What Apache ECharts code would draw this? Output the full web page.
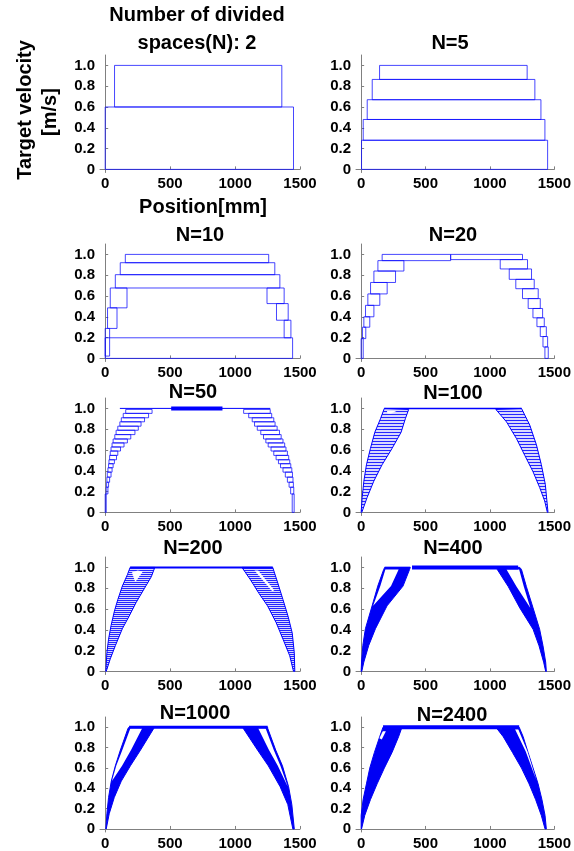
<!DOCTYPE html>
<html>
<head>
<meta charset="utf-8">
<script src="https://cdn.jsdelivr.net/npm/echarts@6/dist/echarts.min.js"></script>
<style>
html, body { margin: 0; padding: 0; background: #fff; }
#chart { width: 574px; height: 851px; }
</style>
</head>
<body>
<div id="chart"></div>
<script>
// ---- data (position in mm, velocity in m/s) ----
const xTicks = [0, 500, 1000, 1500];
const yTicks = [0, 0.2, 0.4, 0.6, 0.8, 1.0];
const panelTitles = ['N=5', 'N=10', 'N=20', 'N=50', 'N=100', 'N=200', 'N=400', 'N=1000', 'N=2400'];

// boxes: [xStart, xEnd, vLow, vHigh]
const boxesN2 = [[0, 1450, 0, 0.6], [72, 1360, 0.6, 1.0]];
const boxesN5 = [[3, 1448, 0, 0.28], [16, 1427, 0.28, 0.48], [47, 1396, 0.48, 0.67], [86, 1349, 0.67, 0.865], [143, 1289, 0.865, 1.0]];
const boxesN10 = [[155, 1259, 0.92, 1.0], [116, 1306, 0.805, 0.92], [78, 1345, 0.677, 0.805], [39, 168, 0.486, 0.677],
  [1246, 1378, 0.527, 0.677], [18, 91, 0.288, 0.486], [1319, 1409, 0.367, 0.527], [1378, 1430, 0.198, 0.367],
  [0, 34, 0.022, 0.288], [0, 1443, 0, 0.198]];
const boxesN20 = [[163, 695, 0.94, 1.0], [695, 1253, 0.95, 1.0], [130, 332, 0.84, 0.94], [99, 267, 0.73, 0.84],
  [73, 202, 0.62, 0.73], [52, 145, 0.51, 0.62], [34, 99, 0.40, 0.51], [21, 67, 0.30, 0.40], [10, 36, 0.19, 0.30], [0, 16, 0, 0.19],
  [1080, 1292, 0.86, 0.95], [1150, 1323, 0.76, 0.86], [1201, 1344, 0.67, 0.76], [1253, 1375, 0.575, 0.67],
  [1297, 1391, 0.48, 0.575], [1334, 1409, 0.39, 0.48], [1365, 1422, 0.305, 0.39], [1391, 1438, 0.21, 0.305],
  [1412, 1448, 0.11, 0.21], [1427, 1453, 0, 0.11]];
const boxesN50 = [[158, 361, 0.952, 0.990], [139, 334, 0.910, 0.952], [124, 303, 0.871, 0.910], [113, 276, 0.829, 0.871],
  [97, 255, 0.790, 0.829], [84, 229, 0.748, 0.790], [74, 197, 0.706, 0.748], [61, 171, 0.668, 0.706], [53, 145, 0.629, 0.668],
  [45, 118, 0.590, 0.629], [39, 97, 0.548, 0.590], [34, 87, 0.506, 0.548], [29, 71, 0.468, 0.506], [26, 61, 0.429, 0.468],
  [21, 53, 0.387, 0.429], [16, 45, 0.339, 0.387], [13, 34, 0.290, 0.339], [11, 26, 0.242, 0.290], [8, 21, 0.177, 0.242], [0, 8, 0, 0.177],
  [1066, 1271, 0.952, 0.990], [1105, 1282, 0.910, 0.952], [1132, 1298, 0.871, 0.910], [1150, 1308, 0.829, 0.871],
  [1171, 1324, 0.790, 0.829], [1198, 1342, 0.748, 0.790], [1219, 1355, 0.706, 0.748], [1237, 1369, 0.668, 0.706],
  [1255, 1382, 0.629, 0.668], [1277, 1392, 0.590, 0.629], [1298, 1403, 0.548, 0.590], [1316, 1413, 0.506, 0.548],
  [1334, 1421, 0.468, 0.506], [1350, 1429, 0.429, 0.468], [1369, 1437, 0.387, 0.429], [1387, 1442, 0.339, 0.387],
  [1403, 1446, 0.290, 0.339], [1416, 1449, 0.242, 0.290], [1428, 1452, 0.177, 0.242], [1440, 1455, 0, 0.177]];
const topN50 = [[113, 1.0], [1271, 1.0]];
const barN50 = [[508, 1.0], [903, 1.0]];

// dense panels: outlines of the hatched / filled bands, and the white gaps inside them [x, v]
const bandN100Left = [[0, 0], [8, 0.142], [21, 0.30], [41, 0.457], [72, 0.615], [106, 0.77], [150, 0.90], [180, 1.0],
  [369, 0.99], [343, 0.90], [310, 0.77], [240, 0.615], [162, 0.457], [98, 0.30], [46, 0.142], [5, 0]];
const holeN100Left = [[200, 0.975], [275, 0.975], [232, 0.95], [205, 0.95]];
const bandN100Right = [[1245, 1.0], [1309, 0.84], [1361, 0.65], [1399, 0.46], [1430, 0.27], [1451, 0], [1446, 0], [1425, 0.11],
  [1386, 0.24], [1335, 0.39], [1270, 0.55], [1206, 0.71], [1129, 0.87], [1046, 0.99]];
const topN100 = [[180, 1.0], [1245, 1.0]];

const bandN200Left = [[5, 0], [13, 0.18], [26, 0.31], [45, 0.44], [71, 0.58], [97, 0.69], [132, 0.82], [171, 0.93], [192, 1.0],
  [382, 1.0], [355, 0.91], [303, 0.80], [237, 0.66], [184, 0.53], [132, 0.41], [79, 0.25], [39, 0.12], [8, 0]];
const holeN200Left = [[205, 0.95], [250, 0.97], [290, 0.96], [232, 0.86]];
const bandN200Right = [[1290, 1.0], [1329, 0.85], [1369, 0.69], [1408, 0.53], [1440, 0.37], [1456, 0.18], [1460, 0], [1450, 0],
  [1421, 0.15], [1369, 0.31], [1316, 0.47], [1250, 0.63], [1184, 0.75], [1119, 0.88], [1053, 1.0]];
const holeN200Right = [[1150, 0.97], [1178, 0.97], [1302, 0.78], [1286, 0.77]];
const topN200 = [[192, 1.0], [1290, 1.0]];

const bandN400Left = [[0, 0], [3, 0.09], [13, 0.25], [33, 0.41], [85, 0.63], [129, 0.82], [175, 0.98], [183, 1.0],
  [381, 1.0], [376, 0.98], [325, 0.82], [201, 0.63], [111, 0.41], [59, 0.25], [21, 0.09], [5, 0]];
const holeN400Left = [[93, 0.63], [149, 0.82], [188, 0.98], [291, 0.98], [232, 0.82]];
const bandN400Right = [[1232, 1.0], [1245, 0.98], [1283, 0.816], [1335, 0.61], [1386, 0.405], [1412, 0.247], [1433, 0.089],
  [1438, 0], [1433, 0], [1417, 0.089], [1381, 0.247], [1335, 0.405], [1232, 0.61], [1142, 0.816], [1057, 0.98], [1051, 1.0]];
const holeN400Right = [[1129, 0.98], [1227, 0.98], [1263, 0.816], [1314, 0.61], [1206, 0.816]];
const topN400 = [[183, 1.0], [381, 1.0]];
const barN400 = [[395, 1.0], [1219, 1.0]];

const bandN1000Left = [[5, 0], [13, 0.15], [26, 0.31], [47, 0.47], [78, 0.62], [117, 0.775], [176, 0.99], [184, 1.0],
  [375, 1.0], [375, 0.99], [272, 0.775], [194, 0.62], [124, 0.47], [70, 0.31], [31, 0.15], [8, 0]];
const holeN1000Left = [[52, 0.47], [85, 0.62], [132, 0.775], [194, 0.99], [285, 0.99], [199, 0.775], [130, 0.62]];
const bandN1000Right = [[1251, 1.0], [1251, 0.99], [1313, 0.775], [1365, 0.62], [1412, 0.415], [1437, 0.24], [1456, 0],
  [1445, 0], [1406, 0.24], [1347, 0.415], [1256, 0.62], [1173, 0.775], [1062, 0.99], [1062, 1.0]];
const holeN1000Right = [[1178, 0.99], [1235, 0.99], [1298, 0.775], [1349, 0.62], [1406, 0.415], [1329, 0.62], [1261, 0.775]];
const topN1000 = [[184, 1.0], [1251, 1.0]];

const bandN2400Left = [[0, 0], [0, 0.133], [15, 0.288], [41, 0.443], [67, 0.598], [103, 0.752], [144, 0.907], [170, 1.0],
  [317, 1.0], [291, 0.907], [240, 0.752], [180, 0.598], [124, 0.443], [72, 0.288], [28, 0.133], [3, 0]];
const holeN2400Left = [[142, 0.89], [168, 0.96], [192, 0.96], [160, 0.88]];
const bandN2400Right = [[1227, 1.0], [1258, 0.907], [1296, 0.752], [1335, 0.598], [1374, 0.443], [1404, 0.288], [1428, 0.133],
  [1438, 0], [1428, 0], [1399, 0.133], [1355, 0.288], [1304, 0.443], [1245, 0.598], [1175, 0.752], [1103, 0.907], [1046, 1.0]];
const holeN2400Right = [[1195, 0.98], [1220, 0.98], [1292, 0.76], [1360, 0.48], [1278, 0.76]];
const topN2400 = [[170, 1.0], [1227, 1.0]];

// ---- layout ----
const rowTops = [55, 244, 398, 557, 717];
const colLefts = [100, 356];
const BLUE = '#0000ff';
const SOLID = '#0000f5';
const FONT = '"Liberation Sans", Arial, sans-serif';

function hatch(gap) {
  const c = document.createElement('canvas');
  c.width = 4; c.height = gap;
  const g = c.getContext('2d');
  g.fillStyle = '#d8d8ff'; g.fillRect(0, 0, 4, gap);
  g.fillStyle = '#2626ff'; g.fillRect(0, 0, 4, 1);
  return { image: c, repeat: 'repeat' };
}

function boxSeries(i, boxes) {
  return {
    type: 'custom', xAxisIndex: i, yAxisIndex: i, data: boxes, silent: true,
    renderItem: function (params, api) {
      const a = api.coord([api.value(0), api.value(3)]);
      const b = api.coord([api.value(1), api.value(2)]);
      return {
        type: 'rect',
        shape: { x: a[0], y: a[1], width: b[0] - a[0], height: b[1] - a[1] },
        style: { fill: 'none', stroke: 'rgba(10,10,255,0.75)', lineWidth: 1 }
      };
    }
  };
}

function polySeries(i, pts, fill, stroke) {
  return {
    type: 'custom', xAxisIndex: i, yAxisIndex: i, data: pts, silent: true,
    renderItem: function (params, api) {
      if (params.dataIndex !== 0) return null;
      return {
        type: 'polygon',
        shape: { points: pts.map(p => api.coord(p)) },
        style: { fill: fill, stroke: stroke, lineWidth: 1 }
      };
    }
  };
}

function lineSeries(i, pts, width) {
  return {
    type: 'line', xAxisIndex: i, yAxisIndex: i, data: pts, symbol: 'none', silent: true,
    lineStyle: { color: BLUE, width: width }
  };
}

const grids = [], xAxes = [], yAxes = [];
for (let i = 0; i < 10; i++) {
  grids.push({ left: colLefts[i % 2], top: rowTops[Math.floor(i / 2)], width: 200, height: 117.5 });
  xAxes.push({
    gridIndex: i, type: 'value', min: -40, max: 1500,
    axisLine: { lineStyle: { color: '#808080', width: 1 } },
    axisTick: { inside: true, length: 3, customValues: xTicks, lineStyle: { color: '#808080' } },
    axisLabel: {
      customValues: xTicks, color: '#000', fontWeight: 'bold', fontSize: 15, fontFamily: FONT, margin: 4,
      formatter: v => String(v)
    },
    splitLine: { show: false }
  });
  yAxes.push({
    gridIndex: i, type: 'value', min: -0.03, max: 1.1,
    axisLine: { show: true, lineStyle: { color: '#808080', width: 1 } },
    axisTick: { show: true, inside: true, length: 3, customValues: yTicks, lineStyle: { color: '#808080' } },
    axisLabel: {
      customValues: yTicks, color: '#000', fontWeight: 'bold', fontSize: 15, fontFamily: FONT, margin: 5,
      formatter: v => (v === 0 ? '0' : v.toFixed(1))
    },
    splitLine: { show: false }
  });
}

const series = [
  boxSeries(0, boxesN2),
  boxSeries(1, boxesN5),
  boxSeries(2, boxesN10),
  boxSeries(3, boxesN20),
  boxSeries(4, boxesN50), lineSeries(4, topN50, 1), lineSeries(4, barN50, 4),
  polySeries(5, bandN100Left, hatch(3), BLUE), polySeries(5, bandN100Right, hatch(3), BLUE),
  polySeries(5, holeN100Left, '#fff', null), lineSeries(5, topN100, 1.5),
  polySeries(6, bandN200Left, hatch(2), BLUE), polySeries(6, bandN200Right, hatch(2), BLUE),
  polySeries(6, holeN200Left, '#fff', null), polySeries(6, holeN200Right, '#fff', null), lineSeries(6, topN200, 2),
  polySeries(7, bandN400Left, SOLID, SOLID), polySeries(7, bandN400Right, SOLID, SOLID),
  polySeries(7, holeN400Left, '#fff', null), polySeries(7, holeN400Right, '#fff', null),
  lineSeries(7, topN400, 1.5), lineSeries(7, barN400, 4),
  polySeries(8, bandN1000Left, SOLID, SOLID), polySeries(8, bandN1000Right, SOLID, SOLID),
  polySeries(8, holeN1000Left, '#fff', null), polySeries(8, holeN1000Right, '#fff', null),
  lineSeries(8, topN1000, 3),
  polySeries(9, bandN2400Left, SOLID, SOLID), polySeries(9, bandN2400Right, SOLID, SOLID),
  polySeries(9, holeN2400Left, '#fff', null), polySeries(9, holeN2400Right, '#fff', null),
  lineSeries(9, topN2400, 4)
];

// titles
const titlePos = [[450, 43], [200, 235], [453, 235], [193, 392], [453, 393], [193, 548], [453, 548], [195, 713], [452, 715]];
const textStyle = (t) => ({ text: t, fill: '#000', font: 'bold 20px ' + FONT, align: 'center', verticalAlign: 'middle' });
const graphics = [
  { type: 'text', x: 197, y: 15, style: textStyle('Number of divided') },
  { type: 'text', x: 197, y: 43, style: textStyle('spaces(N): 2') },
  { type: 'text', x: 203, y: 207, style: textStyle('Position[mm]') },
  { type: 'text', x: 25, y: 110, rotation: Math.PI / 2, style: textStyle('Target velocity') },
  { type: 'text', x: 50, y: 112, rotation: Math.PI / 2, style: textStyle('[m/s]') }
];
panelTitles.forEach((t, k) => {
  graphics.push({ type: 'text', x: titlePos[k][0], y: titlePos[k][1], style: textStyle(t) });
});

const chart = echarts.init(document.getElementById('chart'));
chart.setOption({
  animation: false,
  backgroundColor: '#fff',
  grid: grids,
  xAxis: xAxes,
  yAxis: yAxes,
  series: series,
  graphic: graphics
});
</script>
</body>
</html>
